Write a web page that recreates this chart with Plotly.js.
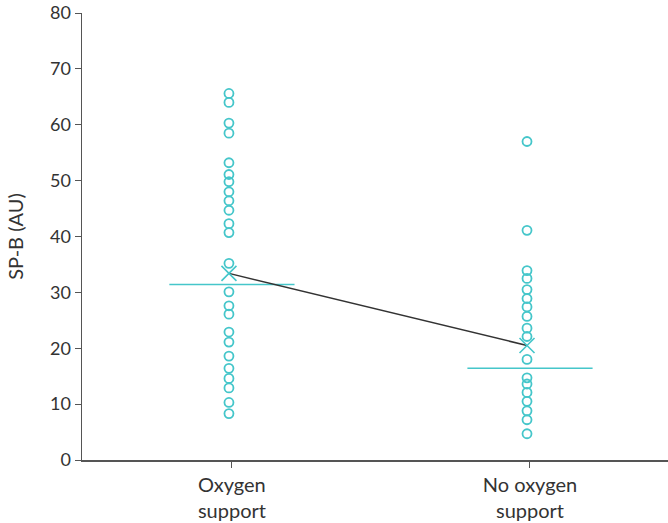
<!DOCTYPE html>
<html>
<head>
<meta charset="utf-8">
<script src="https://cdn.plot.ly/plotly-3.0.1.min.js"></script>
<style>html,body{margin:0;padding:0;background:#fff;}#chart{width:668px;height:523px;}</style>
</head>
<body>
<div id="chart"></div>
<script>
const categories = ["Oxygen<br>support", "No oxygen<br>support"];
const oxygenSupport = [65.6, 64.0, 60.3, 58.5, 53.2, 51.1, 49.8, 48.0, 46.4, 44.7, 42.3, 40.7, 35.2, 30.1, 27.6, 26.1, 22.9, 21.1, 18.6, 16.4, 14.6, 12.9, 10.3, 8.3];
const noOxygenSupport = [57.0, 41.1, 33.9, 32.5, 30.5, 28.9, 27.4, 25.7, 23.6, 22.1, 18.0, 14.7, 13.6, 12.1, 10.5, 8.8, 7.2, 4.7];
const means = [33.4, 20.5];
const medians = [31.4, 16.4];
const yTicks = [0, 10, 20, 30, 40, 50, 60, 70, 80];

const teal = '#45c6ca';
const groups = [oxygenSupport, noOxygenSupport];
const catPos = [0, 1];
const halfWidth = 0.21;

const traces = [];
medians.forEach((m, i) => {
  traces.push({
    x: [catPos[i] - halfWidth, catPos[i] + halfWidth],
    y: [m, m],
    mode: 'lines',
    line: {color: teal, width: 1.5},
    hoverinfo: 'skip',
    showlegend: false
  });
});
groups.forEach((g, i) => {
  traces.push({
    x: g.map(() => catPos[i] - 0.01),
    y: g,
    mode: 'markers',
    marker: {symbol: 'circle-open', size: 9, color: teal, line: {color: teal, width: 1.8}},
    showlegend: false
  });
});
traces.push({
  x: catPos.map(p => p - 0.01),
  y: means,
  mode: 'lines',
  line: {color: '#333333', width: 1.5},
  showlegend: false
});
traces.push({
  x: catPos.map(p => p - 0.01),
  y: means,
  mode: 'markers',
  marker: {symbol: 'x-thin-open', size: 15, color: teal, line: {color: teal, width: 1.6}},
  showlegend: false
});

const layout = {
  width: 668,
  height: 523,
  margin: {l: 82, r: 0, t: 13, b: 63},
  paper_bgcolor: '#ffffff',
  plot_bgcolor: '#ffffff',
  font: {family: 'Lato, "Source Sans Pro", sans-serif', size: 19, color: '#333333'},
  xaxis: {
    range: [-0.503, 1.463],
    tickvals: catPos,
    ticktext: categories,
    showgrid: false,
    zeroline: false,
    showline: true,
    linecolor: '#555555',
    linewidth: 1.5,
    ticks: 'outside',
    ticklen: 6,
    tickcolor: '#555555',
    tickfont: {size: 20, color: '#333333'}
  },
  yaxis: {
    range: [0, 80.001],
    tickvals: yTicks,
    ticklabeloverflow: 'allow',
    showgrid: false,
    zeroline: false,
    showline: true,
    linecolor: '#555555',
    linewidth: 1.5,
    ticks: 'outside',
    ticklen: 6,
    tickcolor: '#555555',
    tickfont: {size: 18, color: '#333333'},
    title: {text: 'SP-B (AU)', font: {size: 20, color: '#333333'}, standoff: 21}
  },
  showlegend: false
};

Plotly.newPlot('chart', traces, layout, {displayModeBar: false, staticPlot: true});
</script>
</body>
</html>
